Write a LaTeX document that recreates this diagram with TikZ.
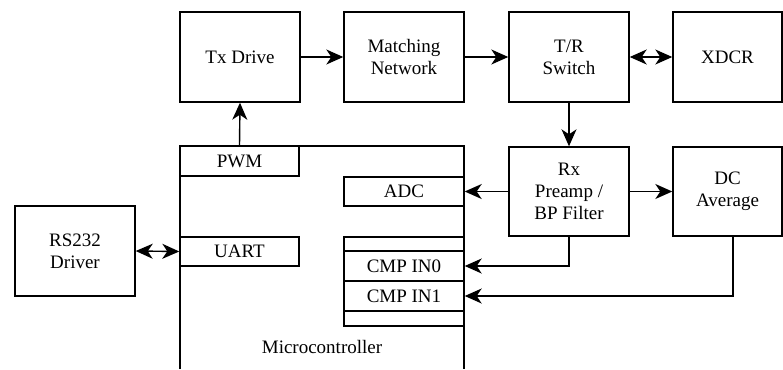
\documentclass[tikz,border=0pt]{standalone}
\usepackage{fontspec}
\setmainfont{Liberation Serif}
\usetikzlibrary{arrows.meta, positioning}

\begin{document}
\begin{tikzpicture}[
    x=1pt, y=-1pt,
    >={Stealth[length=17pt, width=15pt, inset=5pt]},
    every node/.style={font=\fontsize{19}{22}\selectfont},
    blk/.style={draw, line width=1.4pt, inner sep=0pt, minimum width=120pt, minimum height=90pt, align=center},
    port/.style={draw, line width=1.4pt, inner sep=0pt, minimum width=120pt, minimum height=30pt, align=center},
    arr/.style={->, line width=1.4pt},
    dblarr/.style={<->, line width=1.4pt},
]
\useasboundingbox (0,0) rectangle (783,369);

% ============ transmit chain ============
\node[blk] (tx) at (240, 57) {Tx Drive};
\node[blk] (match) at (404, 57) {Matching\\Network};
\node[blk] (trsw) at (569, 57) {T/R\\Switch};
\node[blk, minimum width=109pt] (xdcr) at (727.5, 57) {XDCR};

% ============ receive chain ============
\node[blk, minimum height=89pt] (rx) at (569, 191.5) {Rx\\Preamp /\\BP Filter};
\node[blk, minimum width=109pt, minimum height=89pt] (dcavg) at (727.5, 191.5) {DC\\Average};

\node[blk] (rs232) at (75, 251) {RS232\\Driver};

% ============ microcontroller ============
\draw[line width=1.4pt] (180, 369) -- (180, 146) -- (464, 146) -- (464, 369);
\node (mcu) at (322, 347) {Microcontroller};

\node[port, minimum width=119pt] (pwm) at (239.5, 161) {PWM};
\node[port, minimum height=29pt] (adc) at (404, 191.5) {ADC};
\node[port, minimum width=119pt, minimum height=29pt] (uart) at (239.5, 251.5) {UART};

\node[port, minimum height=14pt] (cmptop) at (404, 244) {};
\node[port] (cmp0) at (404, 266) {CMP IN0};
\node[port] (cmp1) at (404, 296) {CMP IN1};
\node[port, minimum height=15pt] (cmpbot) at (404, 318.5) {};

% ============ connections ============
\draw[arr] (pwm.north) -- (tx.south);
\draw[arr] (tx) -- (match);
\draw[arr] (match) -- (trsw);
\draw[dblarr] (trsw) -- (xdcr);
\draw[arr] (trsw) -- (rx);
\draw[arr] (rx.west) -- (adc.east);
\draw[arr] (rx) -- (dcavg);
\draw[dblarr] (rs232.east) -- (uart.west);

\draw[arr] (rx.south) |- (cmp0.east);
\draw[arr] ([xshift=5.5pt]dcavg.south) |- (cmp1.east);

\end{tikzpicture}
\end{document}
